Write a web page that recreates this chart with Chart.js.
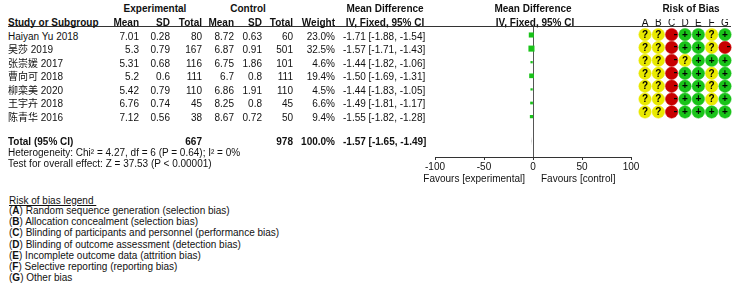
<!DOCTYPE html>
<html>
<head>
<meta charset="utf-8">
<script src="https://cdn.jsdelivr.net/npm/chart.js@4/dist/chart.umd.min.js"></script>
<style>
  html, body { margin: 0; padding: 0; background: #fff; }
  #wrap { position: relative; width: 750px; height: 308px; overflow: hidden;
          font-family: "Liberation Sans", Arial, "Noto Sans CJK SC", sans-serif; font-size: 10px; color: #111; }
  .t { position: absolute; white-space: pre; line-height: 12px; }
  .b { font-weight: bold; }
  canvas { position: absolute; }
  #hline { position: absolute; left: 8px; top: 26px; width: 723px; height: 1px; background: #333; }
</style>
</head>
<body>
<div id="wrap">
  <div id="hline"></div>
  <canvas id="forest" width="250" height="174" style="left:405px;top:0px;"></canvas>
  <canvas id="rob" width="130" height="157" style="left:620px;top:0px;"></canvas>
</div>
<script>
// ---------------- data ----------------
const studies  = ['Haiyan Yu 2018', '吴莎 2019', '张崇媛 2017', '曹向可 2018', '柳栾美 2020', '王宇卉 2018', '陈青华 2016'];
const expMean  = [7.01, 5.3, 5.31, 5.2, 5.42, 6.76, 7.12];
const expSD    = [0.28, 0.79, 0.68, 0.6, 0.79, 0.74, 0.56];
const expN     = [80, 167, 116, 111, 110, 45, 38];
const ctlMean  = [8.72, 6.87, 6.75, 6.7, 6.86, 8.25, 8.67];
const ctlSD    = [0.63, 0.91, 1.86, 0.8, 1.91, 0.8, 0.72];
const ctlN     = [60, 501, 101, 111, 110, 45, 50];
const weights  = [23.0, 32.5, 4.6, 19.4, 4.5, 6.6, 9.4];
const meanDiff = [-1.71, -1.57, -1.44, -1.50, -1.44, -1.49, -1.55];
const ciLow    = [-1.88, -1.71, -1.82, -1.69, -1.83, -1.81, -1.82];
const ciHigh   = [-1.54, -1.43, -1.06, -1.31, -1.05, -1.17, -1.28];

const totalExpN = 667;
const totalCtlN = 978;
const totalWeight = 100.0;
const totalMD = -1.57;
const totalLow = -1.65;
const totalHigh = -1.49;
const heterogeneityText = 'Heterogeneity: Chi² = 4.27, df = 6 (P = 0.64); I² = 0%';
const overallText = 'Test for overall effect: Z = 37.53 (P < 0.00001)';

const xTicks = [-100, -50, 0, 50, 100];
const favourLabels = ['Favours [experimental]', 'Favours [control]'];

const robDomains = ['A', 'B', 'C', 'D', 'E', 'F', 'G'];
const robJudgements = [
  ['?', '?', '-', '+', '+', '?', '+'],
  ['?', '?', '-', '+', '+', '?', '-'],
  ['?', '?', '-', '?', '+', '+', '+'],
  ['?', '?', '-', '+', '+', '?', '+'],
  ['?', '?', '-', '+', '+', '?', '+'],
  ['?', '?', '-', '+', '+', '?', '+'],
  ['?', '?', '-', '+', '+', '+', '+']
];
const robLegendTitle = 'Risk of bias legend ';
const robLegendItems = [
  'Random sequence generation (selection bias)',
  'Allocation concealment (selection bias)',
  'Blinding of participants and personnel (performance bias)',
  'Blinding of outcome assessment (detection bias)',
  'Incomplete outcome data (attrition bias)',
  'Selective reporting (reporting bias)',
  'Other bias'
];

// ---------------- layout ----------------
const ROW0 = 36.5, ROWSTEP = 13.5;        // text row centres (px)
const TOTAL_ROW = 7.8;                     // row index of total line
const Y_MIN = -0.588, Y_MAX = 8.97;        // row-index range of the plot area (27px .. 157px)
const GREEN = '#19c319', YELLOW = '#e9e900', RED = '#c80000';
const COL = { name: 8, eMean: 139, eSD: 170, eN: 202, cMean: 234, cSD: 262, cN: 293, w: 335, ci: 343 };

const wrap = document.getElementById('wrap');
function txt(s, x, y, align, bold) {
  const el = document.createElement('div');
  el.className = 't' + (bold ? ' b' : '');
  el.textContent = s;
  el.style.top = (y - 6) + 'px';
  if (align === 'right') el.style.right = (750 - x) + 'px';
  else if (align === 'center') { el.style.left = x + 'px'; el.style.transform = 'translateX(-50%)'; }
  else el.style.left = x + 'px';
  wrap.appendChild(el);
  return el;
}
const fmt2 = v => v.toFixed(2);
const ciStr = (m, l, h) => fmt2(m) + ' [' + fmt2(l) + ', ' + fmt2(h) + ']';

// headers
txt('Experimental', 155, 9, 'center', true);
txt('Control', 248, 9, 'center', true);
txt('Mean Difference', 385, 9, 'center', true);
txt('Mean Difference', 533, 9, 'center', true);
txt('Risk of Bias', 691, 9, 'center', true);
txt('Study or Subgroup', COL.name, 22.5, 'left', true);
txt('Mean', COL.eMean, 22.5, 'right', true);
txt('SD', COL.eSD, 22.5, 'right', true);
txt('Total', COL.eN, 22.5, 'right', true);
txt('Mean', COL.cMean, 22.5, 'right', true);
txt('SD', COL.cSD, 22.5, 'right', true);
txt('Total', COL.cN, 22.5, 'right', true);
txt('Weight', COL.w, 22.5, 'right', true);
txt('IV, Fixed, 95% CI', 385, 22.5, 'center', true);
txt('IV, Fixed, 95% CI', 535, 22.5, 'center', true);

// study rows
studies.forEach((s, i) => {
  const y = ROW0 + ROWSTEP * i;
  txt(s, COL.name, y, 'left');
  txt(String(expMean[i]), COL.eMean, y, 'right');
  txt(String(expSD[i]), COL.eSD, y, 'right');
  txt(String(expN[i]), COL.eN, y, 'right');
  txt(String(ctlMean[i]), COL.cMean, y, 'right');
  txt(String(ctlSD[i]), COL.cSD, y, 'right');
  txt(String(ctlN[i]), COL.cN, y, 'right');
  txt(weights[i].toFixed(1) + '%', COL.w, y, 'right');
  txt(ciStr(meanDiff[i], ciLow[i], ciHigh[i]), COL.ci, y, 'left');
});

// total rows
const TY = 141.5;
txt('Total (95% CI)', COL.name, TY, 'left', true);
txt(String(totalExpN), COL.eN, TY, 'right', true);
txt(String(totalCtlN), COL.cN, TY, 'right', true);
txt(totalWeight.toFixed(1) + '%', COL.w, TY, 'right', true);
txt(ciStr(totalMD, totalLow, totalHigh), COL.ci, TY, 'left', true);
txt(heterogeneityText, COL.name, 152.5, 'left');
txt(overallText, COL.name, 163.5, 'left');

// favours labels
txt(favourLabels[0], 525, 179, 'right');
txt(favourLabels[1], 541, 179, 'left');

// legend
const lt = txt(robLegendTitle, 9, 201, 'left');
lt.style.textDecoration = 'underline';
robLegendItems.forEach((s, i) => {
  const el = txt('', 9, 211 + 11.17 * i, 'left');
  el.appendChild(document.createTextNode('('));
  const b = document.createElement('b');
  b.textContent = robDomains[i];
  el.appendChild(b);
  el.appendChild(document.createTextNode(') ' + s));
});

// ---------------- charts ----------------
Chart.defaults.font.family = '"Liberation Sans", Arial, sans-serif';
Chart.defaults.font.size = 10;
Chart.defaults.color = '#111';
Chart.defaults.animation = false;

const whiskerPlugin = {
  id: 'whiskers',
  beforeDatasetsDraw(chart) {
    const { ctx, scales: { x, y } } = chart;
    ctx.save();
    ctx.strokeStyle = '#000';
    ctx.lineWidth = 1;
    meanDiff.forEach((m, i) => {
      const py = Math.round(y.getPixelForValue(i)) + 0.5;
      ctx.beginPath();
      ctx.moveTo(x.getPixelForValue(ciLow[i]), py);
      ctx.lineTo(x.getPixelForValue(ciHigh[i]), py);
      ctx.stroke();
    });
    // pooled diamond
    const ty = y.getPixelForValue(TOTAL_ROW);
    ctx.fillStyle = '#000';
    ctx.beginPath();
    ctx.moveTo(x.getPixelForValue(totalLow), ty);
    ctx.lineTo(x.getPixelForValue(totalMD), ty - 4);
    ctx.lineTo(x.getPixelForValue(totalHigh), ty);
    ctx.lineTo(x.getPixelForValue(totalMD), ty + 4);
    ctx.closePath();
    ctx.fill();
    ctx.restore();
  }
};

new Chart(document.getElementById('forest'), {
  type: 'scatter',
  data: {
    datasets: [{
      data: meanDiff.map((m, i) => ({ x: m, y: i })),
      pointStyle: 'rect',
      pointRadius: ctx => 0.75 * Math.sqrt(weights[ctx.dataIndex]),
      backgroundColor: GREEN,
      borderWidth: 0
    }]
  },
  options: {
    responsive: false,
    layout: { padding: { left: 30, right: 24, top: 27, bottom: 0 } },
    plugins: { legend: { display: false }, tooltip: { enabled: false } },
    scales: {
      x: {
        type: 'linear', position: 'bottom', min: -100, max: 100,
        afterBuildTicks: s => { s.ticks = xTicks.map(v => ({ value: v })); },
        ticks: { padding: 1, color: '#111', callback: v => String(v), autoSkip: false, maxRotation: 0, minRotation: 0 },
        grid: {
          drawOnChartArea: true,
          color: c => (c.tick && c.tick.value === 0) ? '#555' : 'rgba(0,0,0,0)',
          tickColor: '#333', tickLength: 3, lineWidth: 1
        },
        border: { display: true, color: '#333', width: 1 }
      },
      y: {
        type: 'linear', display: false, reverse: true, min: Y_MIN, max: Y_MAX
      }
    }
  },
  plugins: [whiskerPlugin]
});

const symbolPlugin = {
  id: 'robSymbols',
  afterDatasetsDraw(chart) {
    const { ctx, scales: { x, y } } = chart;
    ctx.save();
    ctx.fillStyle = '#000';
    ctx.font = 'bold 10px "Liberation Sans", Arial, sans-serif';
    ctx.textAlign = 'center';
    ctx.textBaseline = 'middle';
    robJudgements.forEach((row, i) => {
      row.forEach((j, k) => {
        const px = x.getPixelForValue(k), py = y.getPixelForValue(i);
        if (j === '-') {
          ctx.fillRect(Math.round(px + 2), Math.round(py) - 1, 3, 1.2);
        } else {
          ctx.fillText(j, px, py + 0.5);
        }
      });
    });
    ctx.restore();
  }
};

const robPoints = [];
robJudgements.forEach((row, i) => row.forEach((j, k) => robPoints.push({ x: robDomains[k], y: i, j })));
const robColor = j => j === '+' ? GREEN : (j === '-' ? RED : YELLOW);

new Chart(document.getElementById('rob'), {
  type: 'scatter',
  data: {
    labels: robDomains,
    datasets: [{
      data: robPoints,
      pointStyle: 'circle',
      pointRadius: 6.2,
      backgroundColor: c => robColor(c.raw.j),
      borderColor: c => robColor(c.raw.j),
      borderWidth: 0.5
    }]
  },
  options: {
    responsive: false,
    layout: { padding: { left: 18.33, right: 18.33, top: 19, bottom: 0 } },
    plugins: { legend: { display: false }, tooltip: { enabled: false } },
    scales: {
      x: {
        type: 'category', labels: robDomains, position: 'top', offset: true,
        ticks: { padding: -2, color: '#111', font: { size: 10 }, autoSkip: false, maxRotation: 0, minRotation: 0 },
        grid: { display: false, drawTicks: false },
        border: { display: false }
      },
      y: { type: 'linear', display: false, reverse: true, min: Y_MIN, max: Y_MAX }
    }
  },
  plugins: [symbolPlugin]
});
</script>
</body>
</html>
